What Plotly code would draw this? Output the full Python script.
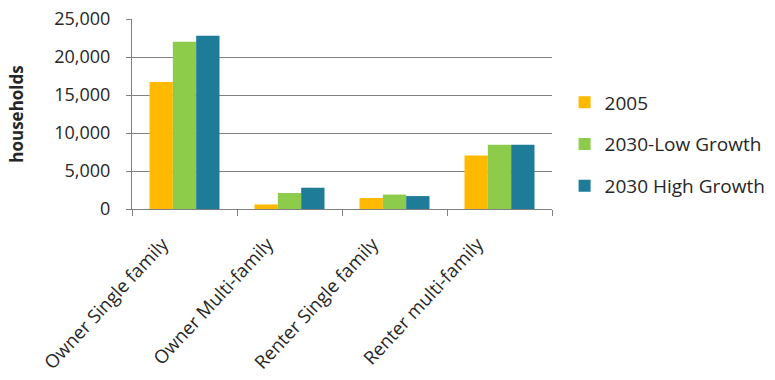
import plotly.graph_objects as go

categories = ["Owner Single family", "Owner Multi-family", "Renter Single family", "Renter multi-family"]
series_names = ["2005", "2030-Low Growth", "2030 High Growth"]
values_2005 = [16700, 600, 1450, 7050]
values_low = [22000, 2100, 1900, 8450]
values_high = [22800, 2800, 1700, 8450]
y_ticks = [0, 5000, 10000, 15000, 20000, 25000]
y_tick_labels = ["0", "5,000", "10,000", "15,000", "20,000", "25,000"]

colors = ["#FFB900", "#8DCB4B", "#1F7C99"]
font_family = "Open Sans, Arial, sans-serif"
text_color = "#262626"

fig = go.Figure()
for i, (name, vals) in enumerate(zip(series_names, [values_2005, values_low, values_high])):
    fig.add_trace(go.Bar(
        x=categories, y=vals, name=name,
        marker=dict(color=colors[i], line=dict(width=0)),
        legendgroup=name,
    ))

fig.update_layout(
    width=775, height=380,
    margin=dict(l=132, r=223, t=19, b=171, autoexpand=False),
    plot_bgcolor="white", paper_bgcolor="white",
    barmode="group", bargap=1/3, bargroupgap=0,
    font=dict(family=font_family, size=18, color=text_color),
    showlegend=True,
    legend=dict(
        x=1.03, y=0.34, xanchor="left", yanchor="middle",
        font=dict(size=19, color=text_color),
        tracegroupgap=14, itemwidth=30,
        bgcolor="rgba(0,0,0,0)",
    ),
)

fig.update_xaxes(
    type="category",
    tickangle=-47,
    tickson="boundaries",
    ticks="outside", ticklen=6, tickcolor="#808080",
    showline=True, linecolor="#808080", linewidth=1,
    showgrid=False,
    ticklabelshift=-22, ticklabelstandoff=16,
    tickfont=dict(size=18.5, color=text_color),
)

fig.update_yaxes(
    range=[0, 25000],
    tickvals=y_ticks, ticktext=y_tick_labels,
    showgrid=True, gridcolor="#808080", gridwidth=1,
    showline=True, linecolor="#808080", linewidth=1,
    ticks="outside", ticklen=5, tickcolor="#808080",
    ticklabelstandoff=12,
    zeroline=False,
    tickfont=dict(size=18, color=text_color),
    title=dict(text="<b>households</b>", font=dict(size=17, color=text_color), standoff=26),
)

fig.write_html("out.html")
